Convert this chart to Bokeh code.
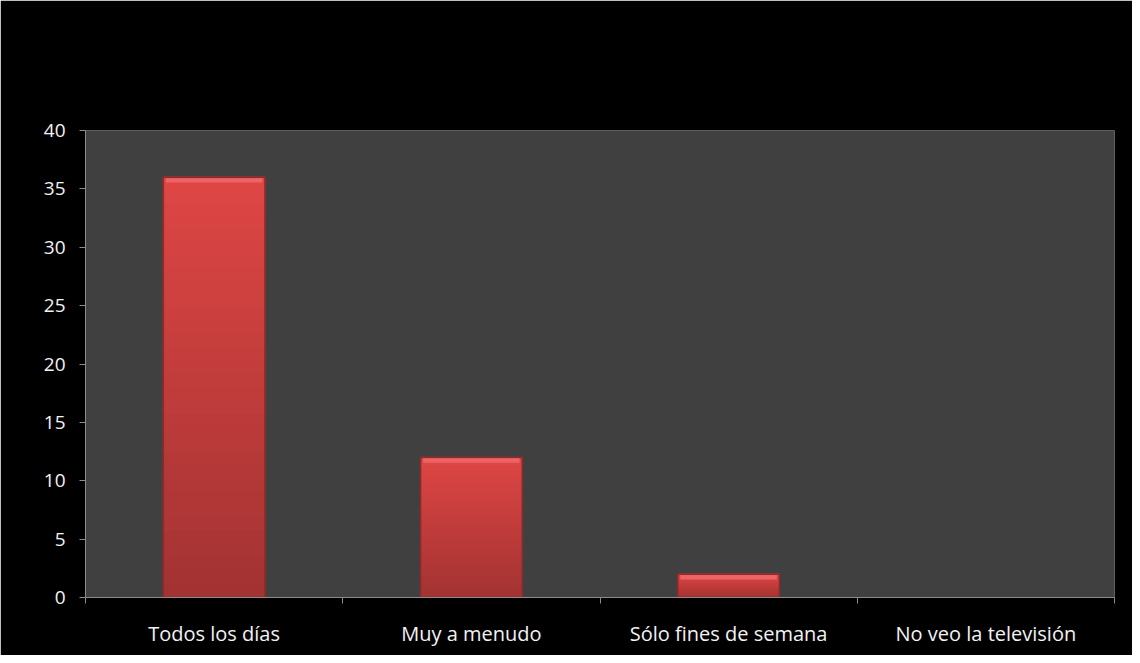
from bokeh.plotting import figure
from bokeh.models import (Range1d, LinearAxis, FixedTicker, ColumnDataSource)
from bokeh.embed import file_html
from bokeh.resources import INLINE

# ---- data ----
categories = ["Todos los días", "Muy a menudo", "Sólo fines de semana", "No veo la televisión"]
values = [36, 12, 2, 0]
y_ticks = [0, 5, 10, 15, 20, 25, 30, 35, 40]

FONT = "Open Sans"
TXT = "#f2f2f2"
GRID = "#8c8c8c"

n = len(categories)
xc = [i + 0.5 for i in range(n)]  # category centres

p = figure(width=1132, height=655, output_backend="svg", toolbar_location=None,
           x_range=Range1d(0, n), y_range=Range1d(0, 40),
           x_axis_type=None, y_axis_type=None,
           min_border_left=85, min_border_right=18, min_border_top=130, min_border_bottom=58)
p.background_fill_color = "#404040"
p.border_fill_color = "#000000"
p.outline_line_color = None

# y axis
yax = LinearAxis(ticker=FixedTicker(ticks=y_ticks))
yax.axis_line_color = GRID
yax.major_tick_line_color = GRID
yax.major_tick_out = 6
yax.major_tick_in = 0
yax.minor_tick_line_color = None
yax.major_label_text_color = TXT
yax.major_label_text_font = FONT
yax.major_label_text_font_size = "19px"
yax.major_label_standoff = 14
p.add_layout(yax, "left")

# category axis: labels at centres, boundary ticks as minor ticks
cax = LinearAxis(ticker=FixedTicker(ticks=xc, minor_ticks=list(range(n + 1))),
                 major_label_overrides={x: c for x, c in zip(xc, categories)})
cax.axis_line_color = GRID
cax.major_tick_line_color = None
cax.major_tick_out = 6
cax.major_tick_in = 0
cax.minor_tick_line_color = GRID
cax.minor_tick_out = 6
cax.minor_tick_in = 0
cax.major_label_text_color = TXT
cax.major_label_text_font = FONT
cax.major_label_text_font_size = "20px"
cax.major_label_standoff = 16
p.add_layout(cax, "below")

p.ygrid.grid_line_color = GRID
p.ygrid.ticker = FixedTicker(ticks=y_ticks[1:])
p.xgrid.grid_line_color = None

# bars with vertical gradient
W = 0.395
N = 32
top_c = (0xdf, 0x47, 0x45)
bot_c = (0xa3, 0x33, 0x33)
for i in range(N):
    f0, f1 = i / N, (i + 1) / N
    t = (i + 0.5) / N
    c = tuple(int(bot_c[k] + (top_c[k] - bot_c[k]) * t) for k in range(3))
    col = "#%02x%02x%02x" % c
    src = ColumnDataSource(dict(x=xc,
                                b=[v * f0 for v in values],
                                t=[v * f1 for v in values]))
    p.vbar(x="x", bottom="b", top="t", width=W, source=src,
           fill_color=col, line_color=col, line_width=1)

# bevel: dark outline, light top strip
nz = [i for i, v in enumerate(values) if v > 0]
src_o = ColumnDataSource(dict(x=[xc[i] for i in nz], t=[values[i] for i in nz]))
p.vbar(x="x", bottom=0, top="t", width=W, source=src_o,
       fill_color=None, line_color="#8e2a2a", line_width=1.5)
src_h = ColumnDataSource(dict(x=[xc[i] for i in nz],
                              t=[values[i] - 0.08 for i in nz],
                              b=[max(values[i] - 0.45, 0) for i in nz]))
p.vbar(x="x", bottom="b", top="t", width=W * 0.95, source=src_h,
       fill_color="#ee6464", line_color=None)

open("out.html", "w").write(file_html(p, INLINE))
